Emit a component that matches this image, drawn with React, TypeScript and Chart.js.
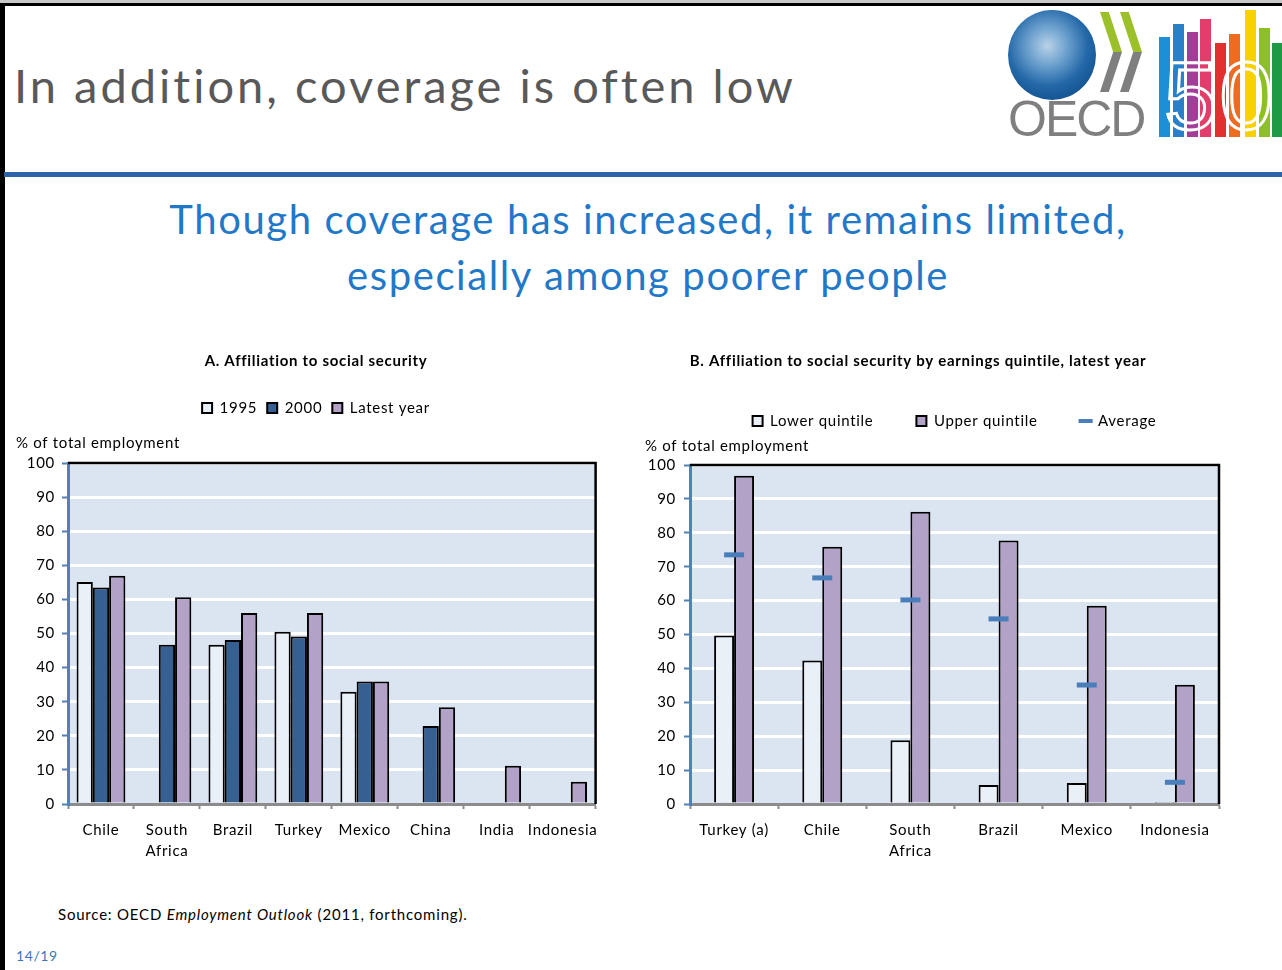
import React, { useEffect, useRef } from 'react';
import { Chart, registerables } from 'chart.js';

Chart.register(...registerables);

const FONT = 'Lato, "Open Sans", sans-serif';

// ---- Panel A data ----
const catsA: (string | string[])[] = ['Chile', ['South', 'Africa'], 'Brazil', 'Turkey', 'Mexico', 'China', 'India', 'Indonesia'];
const seriesA1995 = [65.1, null, 46.7, 50.5, 32.9, null, null, null];
const seriesA2000 = [63.5, 46.7, 48.1, 49.1, 35.9, 22.9, null, null];
const seriesALatest = [66.9, 60.6, 56.0, 56.0, 35.9, 28.4, 11.2, 6.5];
const labelsA = ['1995', '2000', 'Latest year'];

// ---- Panel B data ----
const catsB: (string | string[])[] = ['Turkey (a)', 'Chile', ['South', 'Africa'], 'Brazil', 'Mexico', 'Indonesia'];
const seriesBLower = [49.7, 42.3, 18.8, 5.6, 6.2, 0.3];
const seriesBUpper = [96.8, 75.9, 86.2, 77.7, 58.5, 35.2];
const seriesBAverage = [73.5, 66.7, 60.2, 54.6, 35.1, 6.4];
const labelsB = ['Lower quintile', 'Upper quintile', 'Average'];

const titleA = 'A. Affiliation to social security';
const titleB = 'B. Affiliation to social security by earnings quintile, latest year';
const yAxisLabel = '% of total employment';

const C_LIGHT = '#eaf0f8';
const C_DARK = '#376092';
const C_PURPLE = '#b3a2c7';
const C_AVG = '#4a7ebb';
const C_PLOT = '#dbe5f1';
const C_AXIS = '#4f81bd';
const C_XAXIS = '#8c8c8c';
const SPACING = '0.7px';

const spacing = {
  id: 'spacing',
  beforeUpdate(chart: any) { chart.ctx.letterSpacing = SPACING; },
  beforeLayout(chart: any) { chart.ctx.letterSpacing = SPACING; },
  beforeDraw(chart: any) { chart.ctx.letterSpacing = SPACING; },
};

// widen the y scale's label clip area without moving the chart area
const labelRoom = {
  id: 'labelRoom',
  afterLayout(chart: any, _args: any, opts: any) {
    const y = chart.scales.y;
    if (y && opts && opts.extra) y.left = y.left - opts.extra;
  },
};

const plotBg = {
  id: 'plotBg',
  beforeDraw(chart: any) {
    const { ctx, chartArea } = chart;
    ctx.save();
    ctx.fillStyle = C_PLOT;
    ctx.fillRect(chartArea.left, chartArea.top, chartArea.right - chartArea.left, chartArea.bottom - chartArea.top);
    ctx.restore();
  },
};

const frame = {
  id: 'frame',
  afterDraw(chart: any) {
    const { ctx, chartArea } = chart;
    ctx.save();
    ctx.strokeStyle = '#000';
    ctx.lineWidth = 2.5;
    ctx.beginPath();
    ctx.moveTo(chartArea.left, chartArea.top);
    ctx.lineTo(chartArea.right, chartArea.top);
    ctx.lineTo(chartArea.right, chartArea.bottom);
    ctx.stroke();
    ctx.restore();
  },
};

const yLabel = {
  id: 'yLabel',
  afterDraw(chart: any, _args: any, opts: any) {
    const { ctx, chartArea } = chart;
    ctx.save();
    ctx.font = `15px ${FONT}`;
    ctx.fillStyle = '#000';
    ctx.textBaseline = 'middle';
    ctx.textAlign = 'left';
    ctx.fillText(opts.text, chartArea.left - opts.dx, chartArea.top - opts.dy);
    ctx.restore();
  },
};

function makeScales(yWidth: number, tickPad: number, xPad: number) {
  return {
    x: {
      grid: { display: true, drawOnChartArea: false, drawTicks: true, tickLength: 5, tickColor: C_XAXIS, tickWidth: 2 },
      border: { display: true, color: C_XAXIS, width: 3, z: 1 },
      ticks: { color: '#000', font: { family: FONT, size: 15, lineHeight: 1.45 }, padding: xPad, maxRotation: 0, autoSkip: false },
      afterFit: (s: any) => { s.height = 76; },
    },
    y: {
      min: 0,
      max: 100,
      ticks: { stepSize: 10, color: '#000', font: { family: FONT, size: 15 }, padding: tickPad },
      grid: { color: '#ffffff', lineWidth: 3, tickColor: C_AXIS, tickLength: 6, tickWidth: 2 },
      border: { color: C_AXIS, width: 3, z: 1 },
      afterFit: (s: any) => { s.width = yWidth; },
    },
  };
}

function ChartA() {
  const ref = useRef<HTMLCanvasElement>(null);
  useEffect(() => {
    const chart = new Chart(ref.current!, {
      type: 'bar',
      data: {
        labels: catsA as any,
        datasets: [
          { label: labelsA[0], data: seriesA1995, backgroundColor: C_LIGHT, borderColor: '#000', borderWidth: 2, categoryPercentage: 0.74, barPercentage: 1 },
          { label: labelsA[1], data: seriesA2000, backgroundColor: C_DARK, borderColor: '#000', borderWidth: 2, categoryPercentage: 0.74, barPercentage: 1 },
          { label: labelsA[2], data: seriesALatest, backgroundColor: C_PURPLE, borderColor: '#000', borderWidth: 2, categoryPercentage: 0.74, barPercentage: 1 },
        ],
      },
      options: {
        responsive: false,
        animation: false,
        devicePixelRatio: 1,
        layout: { padding: { left: 24, right: 10, top: 0, bottom: 0 } },
        scales: makeScales(34, 7, 10) as any,
        plugins: {
          title: { display: true, text: titleA, color: '#000', font: { family: FONT, size: 15, weight: 'bold' }, padding: { top: 12, bottom: 20.5 } },
          legend: {
            display: true,
            position: 'top',
            fullSize: true,
            labels: { boxWidth: 10, boxHeight: 10, padding: 10, color: '#000', font: { family: FONT, size: 15 } },
          },
          subtitle: { display: true, text: ' ', weight: 500, font: { size: 10 }, padding: { top: 0, bottom: 25.5 } },
          tooltip: { enabled: false },
          yLabel: { text: yAxisLabel, dx: 52, dy: 20 },
          labelRoom: { extra: 30 },
        } as any,
      },
      plugins: [spacing, labelRoom, plotBg, frame, yLabel],
    });
    return () => chart.destroy();
  }, []);
  return <canvas ref={ref} width={598} height={540} style={{ width: 598, height: 540, display: 'block' }} />;
}

function ChartB() {
  const ref = useRef<HTMLCanvasElement>(null);
  useEffect(() => {
    const chart = new Chart(ref.current!, {
      type: 'bar',
      data: {
        labels: catsB as any,
        datasets: [
          { label: labelsB[0], data: seriesBLower, backgroundColor: C_LIGHT, borderColor: '#000', borderWidth: 2, categoryPercentage: 0.453, barPercentage: 1, order: 1 },
          { label: labelsB[1], data: seriesBUpper, backgroundColor: C_PURPLE, borderColor: '#000', borderWidth: 2, categoryPercentage: 0.453, barPercentage: 1, order: 1 },
          {
            type: 'line',
            label: labelsB[2],
            data: seriesBAverage,
            showLine: false,
            pointStyle: 'line',
            pointRadius: 10,
            pointHoverRadius: 10,
            pointBorderWidth: 5,
            borderColor: C_AVG,
            backgroundColor: C_AVG,
            order: 0,
          } as any,
        ],
      },
      options: {
        responsive: false,
        animation: false,
        devicePixelRatio: 1,
        layout: { padding: { left: 0, right: 51, top: 0, bottom: 0 } },
        scales: makeScales(73, 8, 10) as any,
        plugins: {
          title: { display: true, text: titleB, color: '#000', font: { family: FONT, size: 15, weight: 'bold' }, padding: { top: 12, bottom: 0.5 } },
          legend: {
            display: true,
            position: 'top',
            fullSize: false,
            labels: {
              usePointStyle: true,
              boxWidth: 10,
              boxHeight: 10,
              padding: 43,
              color: '#000',
              font: { family: FONT, size: 15 },
              generateLabels: () => [
                { text: labelsB[0], fillStyle: C_LIGHT, strokeStyle: '#000', lineWidth: 2, pointStyle: 'rect', hidden: false, datasetIndex: 0, fontColor: '#000' },
                { text: labelsB[1], fillStyle: C_PURPLE, strokeStyle: '#000', lineWidth: 2, pointStyle: 'rect', hidden: false, datasetIndex: 1, fontColor: '#000' },
                { text: labelsB[2], fillStyle: C_AVG, strokeStyle: C_AVG, lineWidth: 4, pointStyle: 'line', hidden: false, datasetIndex: 2, fontColor: '#000' },
              ],
            },
          },
          subtitle: { display: true, text: ' ', weight: 500, font: { size: 10 }, padding: { top: 0, bottom: 14.5 } },
          tooltip: { enabled: false },
          yLabel: { text: yAxisLabel, dx: 45, dy: 19 },
        } as any,
      },
      plugins: [spacing, plotBg, frame, yLabel],
    });
    return () => chart.destroy();
  }, []);
  return <canvas ref={ref} width={653} height={540} style={{ width: 653, height: 540, display: 'block' }} />;
}

const logoBars = [
  { x: 1159, top: 37, color: '#1d8fd6' },
  { x: 1173, top: 24, color: '#2a7fc9' },
  { x: 1187, top: 32, color: '#a23e97' },
  { x: 1200, top: 19, color: '#e23d6b' },
  { x: 1215, top: 43, color: '#e2302f' },
  { x: 1229, top: 34, color: '#ef6b1f' },
  { x: 1245, top: 10, color: '#f7d100' },
  { x: 1259, top: 28, color: '#8dc026' },
  { x: 1272, top: 43, color: '#1e9a44' },
];

function Logo() {
  return (
    <>
      <div style={{ position: 'absolute', left: 1008, top: 10, width: 88, height: 90, borderRadius: '50%', background: 'radial-gradient(circle at 45% 40%, #b9d2e8 0%, #6a9fcd 28%, #2468a8 55%, #0d4c88 85%, #083a6c 100%)' }} />
      <div style={{ position: 'absolute', left: 1100, top: 12, width: 22, height: 80, clipPath: 'polygon(0 0, 40% 0, 100% 50%, 40% 100%, 0 100%, 60% 50%)', background: 'linear-gradient(#9bc02a 0%, #9bc02a 50%, #7f7f7f 50%, #7f7f7f 100%)' }} />
      <div style={{ position: 'absolute', left: 1120, top: 12, width: 22, height: 80, clipPath: 'polygon(0 0, 40% 0, 100% 50%, 40% 100%, 0 100%, 60% 50%)', background: 'linear-gradient(#9bc02a 0%, #9bc02a 50%, #7f7f7f 50%, #7f7f7f 100%)' }} />
      <div style={{ position: 'absolute', left: 1008, top: 94, fontFamily: '"Liberation Sans", sans-serif', fontSize: 50, lineHeight: '50px', color: '#7f7f7f', letterSpacing: -2 }}>OECD</div>
      {logoBars.map((b, i) => (
        <div key={i} style={{ position: 'absolute', left: b.x, top: b.top, width: 11, height: 137 - b.top, background: b.color }} />
      ))}
      <div style={{ position: 'absolute', left: 1164, top: 48, fontFamily: '"Liberation Sans", sans-serif', fontSize: 96, lineHeight: '96px', color: 'transparent', WebkitTextStroke: '3px #ffffff', letterSpacing: 2 } as any}>50</div>
    </>
  );
}

export default function App() {
  return (
    <div style={{ position: 'absolute', left: 0, top: 0, width: 1282, height: 970, overflow: 'hidden', background: '#fff', fontFamily: FONT }}>
      <div style={{ position: 'absolute', left: 0, top: 0, width: 1282, height: 3, background: '#c8c8c8' }} />
      <div style={{ position: 'absolute', left: 0, top: 3, width: 1282, height: 3, background: '#000' }} />
      <div style={{ position: 'absolute', left: 0, top: 3, width: 5, height: 967, background: '#000' }} />
      <div style={{ position: 'absolute', left: 14, top: 62, fontSize: 47, lineHeight: '46px', letterSpacing: 3, color: '#595959', whiteSpace: 'nowrap' }}>In addition, coverage is often low</div>
      <Logo />
      <div style={{ position: 'absolute', left: 4, top: 172, width: 1278, height: 5, background: '#2d62a8' }} />
      <div style={{ position: 'absolute', left: 14, top: 191, width: 1268, textAlign: 'center', fontSize: 40, lineHeight: '56px', letterSpacing: 1.6, color: '#1f78c8' }}>
        Though coverage has increased, it remains limited,<br />especially among poorer people
      </div>
      <div style={{ position: 'absolute', left: 10, top: 340 }}>
        <ChartA />
      </div>
      <div style={{ position: 'absolute', left: 617, top: 340 }}>
        <ChartB />
      </div>
      <div style={{ position: 'absolute', left: 58, top: 905, fontSize: 15, lineHeight: '18px', letterSpacing: 0.8, color: '#000', whiteSpace: 'nowrap' }}>
        Source: OECD <i>Employment Outlook</i> (2011, forthcoming).
      </div>
      <div style={{ position: 'absolute', left: 16, top: 947, fontSize: 14, lineHeight: '18px', letterSpacing: 0.6, color: '#3a78b5' }}>14/19</div>
    </div>
  );
}
